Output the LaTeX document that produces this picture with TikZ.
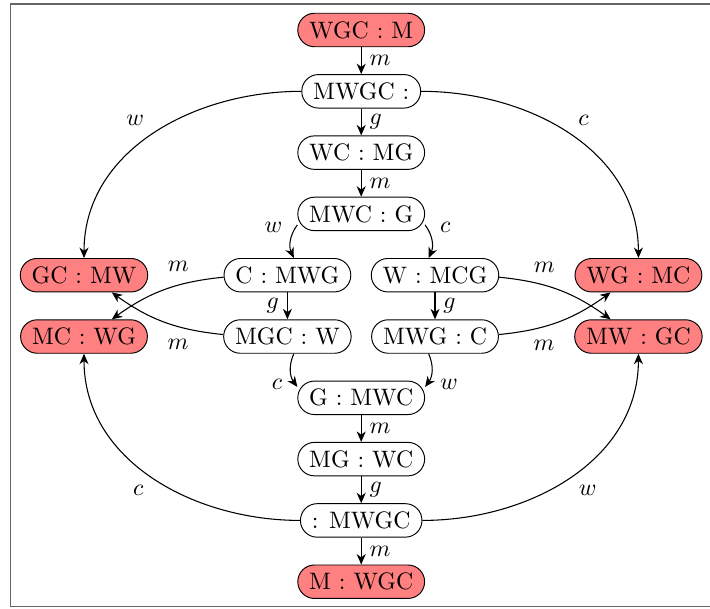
\documentclass[tikz,border=0pt]{standalone}
\usetikzlibrary{arrows.meta}
\begin{document}
\begin{tikzpicture}[x=0.4202pt, y=0.4202pt,
  st/.style={draw, rectangle, rounded corners=7pt, inner xsep=4.8pt, inner ysep=3.4pt, line width=0.4pt},
  bad/.style={st, fill=red!50},
  arr/.style={-{Stealth[length=4.4pt,width=3.8pt,inset=1.4pt]}, line width=0.45pt},
  frameline/.style={draw=black!60, line width=0.7pt}]
\useasboundingbox (0,0) rectangle (710,-608);
\draw[frameline] (712,-4) -- (10.5,-4) -- (10.5,-606.5) -- (712,-606.5);
% nodes
\node[bad] (a) at (361.2,-30) {WGC : M};
\node[st]  (b) at (361.2,-91.3) {MWGC :};
\node[st]  (c) at (361.2,-152.6) {WC : MG};
\node[st]  (d) at (361.2,-213.9) {MWC : G};
\node[st]  (e1) at (287.4,-275.2) {C : MWG};
\node[st]  (e2) at (435.0,-275.2) {W : MCG};
\node[st]  (f1) at (287.4,-336.5) {MGC : W};
\node[st]  (f2) at (435.0,-336.5) {MWG : C};
\node[bad] (L1) at (84,-275.2) {GC : MW};
\node[bad] (L2) at (84,-336.5) {MC : WG};
\node[bad] (R1) at (638.4,-275.2) {WG : MC};
\node[bad] (R2) at (638.4,-336.5) {MW : GC};
\node[st]  (g) at (361.2,-397.8) {G : MWC};
\node[st]  (h) at (361.2,-459.1) {MG : WC};
\node[st]  (i) at (361.2,-520.4) {: MWGC};
\node[bad] (j) at (361.2,-581.7) {M : WGC};
% center column
\draw[arr] (a) -- node[right] {$m$} (b);
\draw[arr] (b) -- node[right] {$g$} (c);
\draw[arr] (c) -- node[right] {$m$} (d);
\draw[arr] (g) -- node[right] {$m$} (h);
\draw[arr] (h) -- node[right] {$g$} (i);
\draw[arr] (i) -- node[right] {$m$} (j);
% inner diamond
\draw[arr] (d) to[bend right] node[above left] {$w$} (e1);
\draw[arr] (d) to[bend left] node[above right] {$c$} (e2);
\draw[arr] (e1) -- node[left] {$g$} (f1);
\draw[arr] (e2) -- node[right] {$g$} (f2);
\draw[arr] (f1) to[bend right] node[below left] {$c$} (g);
\draw[arr] (f2) to[bend left] node[below right] {$w$} (g);
% outer arcs
\draw[arr] (b) to[out=180,in=90] node[above left] {$w$} (L1);
\draw[arr] (b) to[out=0,in=90] node[above right] {$c$} (R1);
\draw[arr] (i) to[out=180,in=-90] node[below left] {$c$} (L2);
\draw[arr] (i) to[out=0,in=-90] node[below right] {$w$} (R2);
% crossing arcs
\draw[arr] (e1) to[bend right=15] node[pos=.37, above=2pt] {$m$} (L2);
\draw[arr] (f1) to[bend left=15] node[pos=.37, below=2pt] {$m$} (L1);
\draw[arr] (e2) to[bend left=15] node[pos=.37, above=2pt] {$m$} (R2);
\draw[arr] (f2) to[bend right=15] node[pos=.37, below=2pt] {$m$} (R1);
\end{tikzpicture}
\end{document}
